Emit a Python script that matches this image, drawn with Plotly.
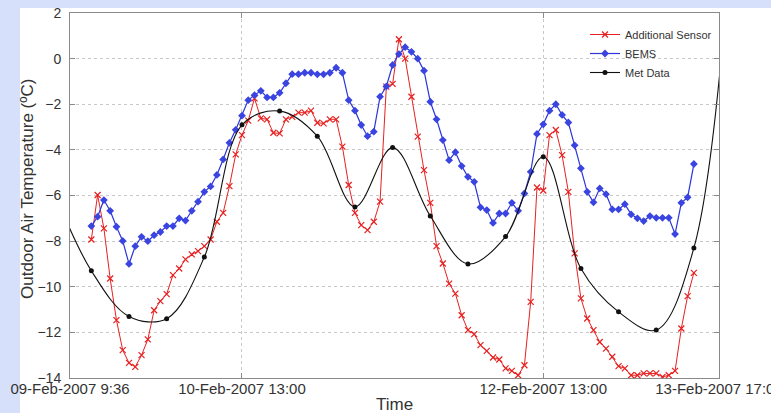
import pandas as pd
import plotly.graph_objects as go

# ---- data ----
hour_start = "2007-02-09 13:00"
n_hours = 97

sensor_values = [
    -7.93, -5.98, -7.44, -9.64, -11.46, -12.78, -13.34, -13.51, -13.0, -12.31,
    -11.03, -10.63, -10.32, -9.49, -9.2, -8.8, -8.58, -8.44, -8.22, -7.93,
    -7.15, -6.76, -5.59, -4.2, -3.35, -2.72, -1.74, -2.62, -2.66, -3.25,
    -3.28, -2.66, -2.55, -2.37, -2.37, -2.28, -2.81, -2.84, -2.66, -2.66,
    -3.86, -5.54, -6.76, -7.3, -7.52, -7.15, -6.27, -1.23, -1.11, 0.85,
    0.0, -1.67, -3.42, -4.89, -6.32, -8.22, -8.98, -9.86, -10.3, -11.25,
    -11.9, -12.08, -12.56, -12.81, -13.1, -13.19, -13.58, -13.69, -13.88, -13.44,
    -10.66, -5.65, -5.78, -3.35, -3.13, -4.23, -5.84, -8.54, -10.51, -11.39,
    -11.9, -12.42, -12.71, -13.07, -13.48, -13.58, -13.88, -13.88, -13.8, -13.8,
    -13.8, -13.95, -13.88, -13.69, -11.83, -10.41, -9.39,
]

bems_values = [
    -7.34, -6.93, -6.2, -6.67, -7.37, -7.99, -9.0, -8.22, -7.81, -8.0,
    -7.74, -7.6, -7.34, -7.34, -7.0, -7.1, -6.67, -6.27, -5.84, -5.6,
    -5.1, -4.42, -3.69, -3.12, -2.5, -1.82, -1.6, -1.41, -1.7, -1.7,
    -1.5, -1.08, -0.68, -0.68, -0.62, -0.62, -0.69, -0.69, -0.62, -0.4,
    -0.62, -1.82, -2.28, -2.91, -3.4, -3.2, -1.67, -1.22, -0.28, 0.2,
    0.5, 0.3, 0.0, -0.53, -1.89, -2.66, -3.57, -4.45, -4.1, -4.71,
    -5.18, -5.4, -6.52, -6.64, -7.2, -6.79, -6.79, -6.32, -6.67, -5.91,
    -4.96, -3.3, -2.88, -2.28, -2.0, -2.47, -2.8, -3.8, -4.81, -5.84,
    -6.3, -5.69, -5.94, -6.61, -6.61, -6.38, -6.83, -7.0, -7.12, -6.9,
    -6.98, -6.98, -6.98, -7.69, -6.32, -6.08, -4.62,
]

met_start = "2007-02-09 07:00"
met_values = [
    -5.8,
    -9.3, -11.3, -11.4, -8.7, -2.9, -2.3, -3.4, -6.5, -3.9,
    -6.9, -9.0, -7.8, -4.3, -9.2, -11.1, -11.9, -8.3,
    5.5,
]

x_range = ["2007-02-09 09:36", "2007-02-13 17:00"]
tick_times = ["2007-02-09 09:36", "2007-02-10 13:00", "2007-02-12 13:00", "2007-02-13 17:00"]
tick_labels = ["09-Feb-2007 9:36", "10-Feb-2007 13:00", "12-Feb-2007 13:00", "13-Feb-2007 17:00"]
y_ticks = [2, 0, -2, -4, -6, -8, -10, -12, -14]

hours = pd.date_range(hour_start, periods=n_hours, freq="h")
met_times = pd.date_range(met_start, periods=len(met_values), freq="6h")

FONT = "Liberation Sans, Arial, sans-serif"
TXT = "#333333"

fig = go.Figure()
fig.add_trace(go.Scatter(
    x=hours, y=sensor_values, name="Additional Sensor", mode="lines+markers",
    line=dict(color="#e82020", width=1),
    marker=dict(symbol="x-thin", size=6, line=dict(color="#e82020", width=1.2)),
))
fig.add_trace(go.Scatter(
    x=hours, y=bems_values, name="BEMS", mode="lines+markers",
    line=dict(color="#2b35d8", width=1.2),
    marker=dict(symbol="diamond", size=6, color="#3a44e0"),
))
fig.add_trace(go.Scatter(
    x=met_times, y=met_values, name="Met Data", mode="lines+markers",
    line=dict(color="#111111", width=1.1, shape="spline", smoothing=1.0),
    marker=dict(symbol="circle", size=5, color="#111111"),
))

L, R, T, B = 70, 52, 13, 35
W, H = 771, 413
pw, ph = W - L - R, H - T - B

fig.add_shape(type="rect", xref="paper", yref="paper", layer="below",
              x0=(20 - L) / pw, x1=1.3, y0=-0.3, y1=(H - B - 8) / ph,
              fillcolor="white", line=dict(width=0))

axis_common = dict(
    showline=True, linecolor="#8a8a8a", linewidth=1, mirror="ticks",
    ticks="inside", ticklen=5, tickcolor="#8a8a8a",
    showgrid=True, gridcolor="#c8c8c8", griddash="dot", gridwidth=1,
    zeroline=False, automargin=False,
)

fig.update_xaxes(type="date", range=x_range, tickvals=tick_times, ticktext=tick_labels,
                 tickangle=0, tickfont=dict(family=FONT, size=15, color=TXT),
                 ticklabelstandoff=-3, ticklabeloverflow="allow", **axis_common)
fig.update_yaxes(range=[-14, 2], tickvals=y_ticks,
                 tickfont=dict(family=FONT, size=14, color=TXT),
                 ticklabelstandoff=5, **axis_common)

fig.add_annotation(text="Outdoor Air Temperature (ºC)", xref="paper", yref="paper",
                   x=(27 - L) / pw, y=(H - B - 189) / ph, xanchor="center", yanchor="middle",
                   textangle=-90, showarrow=False,
                   font=dict(family=FONT, size=17, color=TXT))
fig.add_annotation(text="Time", xref="paper", yref="paper",
                   x=0.5, y=(H - B - 404) / ph, xanchor="center", yanchor="middle",
                   showarrow=False, font=dict(family=FONT, size=17, color=TXT))

fig.update_layout(
    width=W, height=H,
    margin=dict(l=L, r=R, t=T, b=B, pad=0, autoexpand=False),
    paper_bgcolor="#d6e0fb", plot_bgcolor="white",
    showlegend=True, hovermode=False,
    legend=dict(x=(585 - L) / pw, y=(H - B - 20) / ph, xanchor="left", yanchor="top",
                bgcolor="rgba(255,255,255,0)", borderwidth=0,
                font=dict(family=FONT, size=11, color=TXT), itemwidth=30,
                tracegroupgap=0),
)

fig.write_html("out.html", config={"displayModeBar": False},
               post_script="document.body.style.margin='0';document.body.style.overflow='hidden';")
